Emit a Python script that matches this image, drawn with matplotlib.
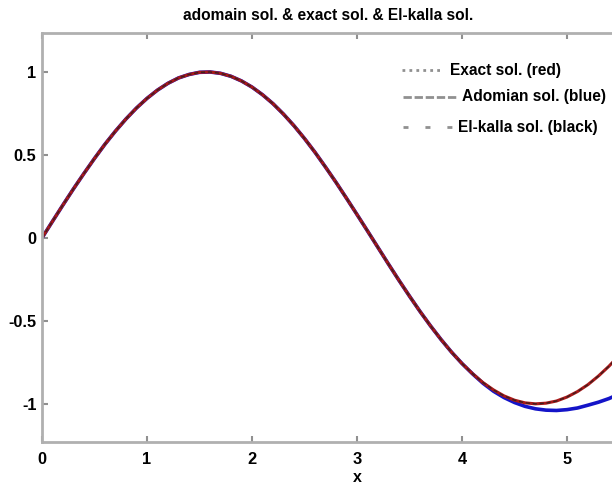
import matplotlib
matplotlib.use("Agg")
import matplotlib.pyplot as plt
from matplotlib.lines import Line2D

plt.rcParams['font.family'] = ['Liberation Sans', 'DejaVu Sans']

x = [0.0, 0.1, 0.2, 0.3, 0.4, 0.5, 0.6, 0.7, 0.8, 0.9,
     1.0, 1.1, 1.2, 1.3, 1.4, 1.5, 1.6, 1.7, 1.8, 1.9,
     2.0, 2.1, 2.2, 2.3, 2.4, 2.5, 2.6, 2.7, 2.8, 2.9,
     3.0, 3.1, 3.2, 3.3, 3.4, 3.5, 3.6, 3.7, 3.8, 3.9,
     4.0, 4.1, 4.2, 4.3, 4.4, 4.5, 4.6, 4.7, 4.8, 4.9,
     5.0, 5.1, 5.2, 5.3, 5.4, 5.5]

exact = [0.000, 0.100, 0.199, 0.296, 0.389, 0.479, 0.565, 0.644, 0.717, 0.783,
         0.841, 0.891, 0.932, 0.964, 0.985, 0.998, 1.000, 0.992, 0.974, 0.946,
         0.909, 0.863, 0.809, 0.746, 0.676, 0.599, 0.516, 0.427, 0.335, 0.239,
         0.141, 0.042, -0.058, -0.158, -0.256, -0.351, -0.443, -0.530, -0.612, -0.688,
         -0.757, -0.818, -0.872, -0.916, -0.952, -0.978, -0.994, -1.000, -0.996, -0.983,
         -0.959, -0.926, -0.884, -0.832, -0.773, -0.706]

adomian = [0.000, 0.100, 0.199, 0.296, 0.389, 0.479, 0.565, 0.644, 0.717, 0.783,
           0.841, 0.891, 0.932, 0.964, 0.985, 0.998, 1.000, 0.992, 0.974, 0.946,
           0.909, 0.863, 0.809, 0.746, 0.676, 0.599, 0.516, 0.427, 0.335, 0.239,
           0.141, 0.042, -0.058, -0.158, -0.256, -0.351, -0.443, -0.530, -0.612, -0.688,
           -0.757, -0.819, -0.876, -0.924, -0.962, -0.992, -1.015, -1.030, -1.038, -1.040,
           -1.035, -1.025, -1.008, -0.990, -0.968, -0.940]

elkalla = [0.000, 0.100, 0.199, 0.296, 0.389, 0.479, 0.565, 0.644, 0.717, 0.783,
           0.841, 0.891, 0.932, 0.964, 0.985, 0.998, 1.000, 0.992, 0.974, 0.946,
           0.909, 0.863, 0.809, 0.746, 0.676, 0.599, 0.516, 0.427, 0.335, 0.239,
           0.141, 0.042, -0.058, -0.158, -0.256, -0.351, -0.443, -0.530, -0.612, -0.688,
           -0.757, -0.818, -0.872, -0.916, -0.952, -0.978, -0.994, -1.000, -0.996, -0.983,
           -0.959, -0.926, -0.884, -0.832, -0.773, -0.706]

xticks = [0, 1, 2, 3, 4, 5]
yticks = [-1, -0.5, 0, 0.5, 1]
ytick_labels = ['-1', '-0.5', '0', '0.5', '1']

legend_labels = ['Exact sol. (red)', 'Adomian sol. (blue)', 'El-kalla sol. (black)']

W, H = 612, 484
fig = plt.figure(figsize=(W / 100, H / 100), dpi=100)
ax = fig.add_axes([42 / W, 1 - 442 / H, 630 / W, (442 - 33) / H])

ax.plot(x, adomian, color='#1414c8', lw=2.6, solid_capstyle='round')
ax.plot(x, exact, color='#a81818', lw=2.2)
ax.plot(x, elkalla, color='#202020', lw=1.0, dashes=(3, 2), alpha=0.8)

ax.set_xlim(0, 6)
ax.set_ylim(-1.23, 1.235)
ax.set_xticks(xticks)
ax.set_xticklabels([str(t) for t in xticks])
ax.set_yticks(yticks)
ax.set_yticklabels(ytick_labels)

for s in ax.spines.values():
    s.set_color('#b0b0b0')
    s.set_linewidth(2.0)
ax.tick_params(direction='in', length=4, width=1.5, color='#909090',
               top=True, right=True, labelsize=11.8)
ax.tick_params(axis='y', pad=4)
ax.tick_params(axis='x', pad=7)
for lab in ax.get_xticklabels() + ax.get_yticklabels():
    lab.set_fontweight('bold')

ax.set_xlabel('x', fontsize=11.5, fontweight='bold', labelpad=2)
fig.text(328 / W, 1 - 15 / H, 'adomain sol. & exact sol. & El-kalla sol.',
         ha='center', va='center', fontsize=11.2, fontweight='bold')

# legend (drawn manually to match original placement)
rows = [
    (70, 402, 442, (1, 1.5), 450),
    (97, 403, 458, (3, 1), 462),
    (127, 403, 453, (1.8, 6.1), 458),
]
for (yc, x0, x1, dash, tx), lab in zip(rows, legend_labels):
    ln = Line2D([x0 / W, x1 / W], [1 - yc / H, 1 - yc / H], transform=fig.transFigure,
                color='#909090', lw=2.0, dashes=dash)
    fig.add_artist(ln)
    fig.text(tx / W, 1 - yc / H, lab, ha='left', va='center',
             fontsize=11.2, fontweight='bold')

fig.savefig('out.png', dpi=100)
